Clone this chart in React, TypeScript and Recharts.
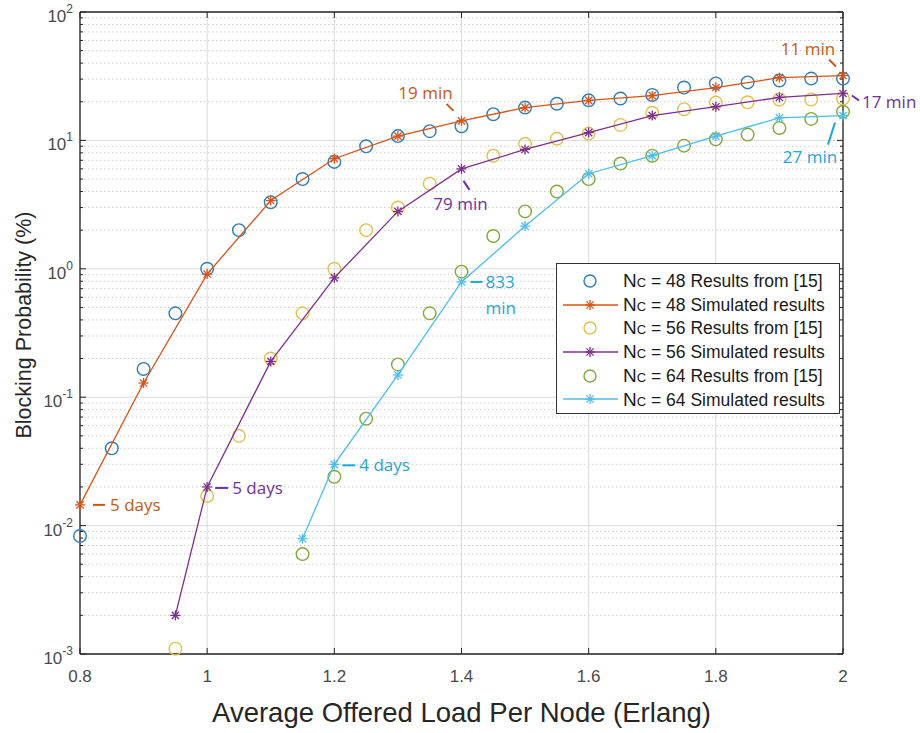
import React from "react";
import {
  ComposedChart,
  Scatter,
  XAxis,
  YAxis,
  CartesianGrid,
  Legend,
  ReferenceDot,
  ReferenceLine,
} from "recharts";

// ---- data ----
const load48Res = [0.8, 0.85, 0.9, 0.95, 1.0, 1.05, 1.1, 1.15, 1.2, 1.25, 1.3, 1.35, 1.4, 1.45, 1.5, 1.55, 1.6, 1.65, 1.7, 1.75, 1.8, 1.85, 1.9, 1.95, 2.0];
const block48Res = [0.0083, 0.04, 0.166, 0.45, 1.0, 2.0, 3.3, 5.0, 6.8, 9.0, 10.8, 11.8, 12.9, 16.0, 18.0, 19.3, 20.5, 21.2, 22.6, 25.8, 27.8, 28.3, 29.3, 30.3, 30.3];

const load48Sim = [0.8, 0.9, 1.0, 1.1, 1.2, 1.3, 1.4, 1.5, 1.6, 1.7, 1.8, 1.9, 2.0];
const block48Sim = [0.0145, 0.129, 0.91, 3.4, 7.2, 10.8, 14.2, 18.0, 20.5, 22.3, 25.8, 30.8, 32.0];

const load56Res = [0.95, 1.0, 1.05, 1.1, 1.15, 1.2, 1.25, 1.3, 1.35, 1.45, 1.5, 1.55, 1.6, 1.65, 1.7, 1.75, 1.8, 1.85, 1.9, 1.95, 2.0];
const block56Res = [0.0011, 0.017, 0.05, 0.2, 0.45, 1.0, 2.0, 3.0, 4.6, 7.6, 9.4, 10.3, 11.3, 13.2, 16.4, 17.5, 19.7, 19.8, 20.8, 20.8, 21.2];

const load56Sim = [0.95, 1.0, 1.1, 1.2, 1.3, 1.4, 1.5, 1.6, 1.7, 1.8, 1.9, 2.0];
const block56Sim = [0.002, 0.02, 0.19, 0.85, 2.8, 6.0, 8.5, 11.5, 15.6, 18.3, 21.6, 23.2];

const load64Res = [1.15, 1.2, 1.25, 1.3, 1.35, 1.4, 1.45, 1.5, 1.55, 1.6, 1.65, 1.7, 1.75, 1.8, 1.85, 1.9, 1.95, 2.0];
const block64Res = [0.006, 0.024, 0.068, 0.18, 0.45, 0.95, 1.8, 2.8, 4.0, 5.0, 6.6, 7.6, 9.1, 10.2, 11.1, 12.5, 14.7, 16.7];

const load64Sim = [1.15, 1.2, 1.3, 1.4, 1.5, 1.6, 1.7, 1.8, 1.9, 2.0];
const block64Sim = [0.0079, 0.03, 0.149, 0.79, 2.15, 5.5, 7.6, 10.8, 15.0, 15.6];

const xTicks = [0.8, 1, 1.2, 1.4, 1.6, 1.8, 2];
const decades = [0.001, 0.01, 0.1, 1, 10, 100];

const legendNc = ["48", "48", "56", "56", "64", "64"];
const legendText = [
  "Results from [15]",
  "Simulated results",
  "Results from [15]",
  "Simulated results",
  "Results from [15]",
  "Simulated results",
];

const annotationText = ["5 days", "5 days", "4 days", "833", "min", "79 min", "19 min", "11 min", "17 min", "27 min"];

// ---- layout / style ----
const W = 920;
const H = 733;
const PL = 80;
const PR = 843;
const PT = 12;
const PB = 654;
const AXIS = "#262626";
const TICKTXT = "#4a4a4a";
const SANS = "'Liberation Sans', Arial, sans-serif";
const ANNOT_FONT = "'Open Sans', sans-serif";

const BLUE = "#2F7DB5";
const ORANGE = "#D95319";
const YELLOW = "#E3C04E";
const PURPLE = "#7E2F8E";
const GREEN = "#82A83A";
const CYAN = "#4DBEEE";

const A_ORANGE = "#C55A11";
const A_PURPLE = "#7030A0";
const A_CYAN = "#1FA5D6";

const minorTicks = decades.slice(0, -1).flatMap((d) =>
  [2, 3, 4, 5, 6, 7, 8, 9].map((k) => Number((d * k).toPrecision(3)))
);
const allYTicks = [...decades, ...minorTicks].sort((a, b) => a - b);

const zip = (xs: number[], ys: number[]) => xs.map((x, i) => ({ x, y: ys[i] }));

const series = [
  { name: "48r", data: zip(load48Res, block48Res), color: BLUE, kind: "circle" },
  { name: "48s", data: zip(load48Sim, block48Sim), color: ORANGE, kind: "star" },
  { name: "56r", data: zip(load56Res, block56Res), color: YELLOW, kind: "circle" },
  { name: "56s", data: zip(load56Sim, block56Sim), color: PURPLE, kind: "star" },
  { name: "64r", data: zip(load64Res, block64Res), color: GREEN, kind: "circle" },
  { name: "64s", data: zip(load64Sim, block64Sim), color: CYAN, kind: "star" },
];

const circleShape = (color: string) => (p: any) =>
  <circle cx={p.cx} cy={p.cy} r={6.3} fill="none" stroke={color} strokeWidth={1.4} />;

const Star = ({ cx, cy, color, s = 5 }: any) => {
  const d = s * 0.72;
  return (
    <g stroke={color} strokeWidth={1.3}>
      <line x1={cx - s} y1={cy} x2={cx + s} y2={cy} />
      <line x1={cx} y1={cy - s} x2={cx} y2={cy + s} />
      <line x1={cx - d} y1={cy - d} x2={cx + d} y2={cy + d} />
      <line x1={cx - d} y1={cy + d} x2={cx + d} y2={cy - d} />
    </g>
  );
};
const starShape = (color: string) => (p: any) => <Star cx={p.cx} cy={p.cy} color={color} />;

// annotations: anchored on a data point, offsets in pixels
type Ann = {
  x: number;
  y: number;
  color: string;
  texts: { t: string; dx: number; dy: number; anchor: "start" | "middle" }[];
  seg: [number, number, number, number];
};
const annotations: Ann[] = [
  { x: load48Sim[0], y: block48Sim[0], color: A_ORANGE, seg: [13, 0, 25, 0], texts: [{ t: annotationText[0], dx: 30, dy: 0, anchor: "start" }] },
  { x: load56Sim[1], y: block56Sim[1], color: A_PURPLE, seg: [8, 1, 21, 1], texts: [{ t: annotationText[1], dx: 25, dy: 1, anchor: "start" }] },
  { x: load64Sim[1], y: block64Sim[1], color: A_CYAN, seg: [8, 1, 21, 1], texts: [{ t: annotationText[2], dx: 25, dy: 1, anchor: "start" }] },
  {
    x: load64Sim[3], y: block64Sim[3], color: A_CYAN, seg: [9, 0, 21, 0],
    texts: [
      { t: annotationText[3], dx: 24, dy: 0, anchor: "start" },
      { t: annotationText[4], dx: 24, dy: 26, anchor: "start" },
    ],
  },
  { x: load56Sim[5], y: block56Sim[5], color: A_PURPLE, seg: [2, 12, 8, 21], texts: [{ t: annotationText[5], dx: -1, dy: 35, anchor: "middle" }] },
  { x: load48Sim[6], y: block48Sim[6], color: A_ORANGE, seg: [-15, -17, -8, -10], texts: [{ t: annotationText[6], dx: -36, dy: -28, anchor: "middle" }] },
  { x: load48Sim[12], y: block48Sim[12], color: A_ORANGE, seg: [-14, -16, -7, -9], texts: [{ t: annotationText[7], dx: -35, dy: -27, anchor: "middle" }] },
  { x: load56Sim[11], y: block56Sim[11], color: A_PURPLE, seg: [9, 2, 16, 7], texts: [{ t: annotationText[8], dx: 19, dy: 9, anchor: "start" }] },
  { x: load64Sim[9], y: block64Sim[9], color: A_CYAN, seg: [-8, 7, -15, 29], texts: [{ t: annotationText[9], dx: -33, dy: 41, anchor: "middle" }] },
];

const annShape = (a: Ann) => (p: any) => {
  const { cx, cy } = p;
  return (
    <g>
      <line x1={cx + a.seg[0]} y1={cy + a.seg[1]} x2={cx + a.seg[2]} y2={cy + a.seg[3]} stroke={a.color} strokeWidth={2} />
      {a.texts.map((t, i) => (
        <text key={i} x={cx + t.dx} y={cy + t.dy + 6} textAnchor={t.anchor} fontFamily={ANNOT_FONT} fontSize={17} fill={a.color}>
          {t.t}
        </text>
      ))}
    </g>
  );
};

const XTick = (props: any) => {
  const { x, payload } = props;
  return (
    <g>
      <line x1={x} x2={x} y1={PB} y2={PB - 6} stroke={AXIS} />
      <line x1={x} x2={x} y1={PT} y2={PT + 6} stroke={AXIS} />
      <text x={x} y={682} textAnchor="middle" fontFamily={SANS} fontSize={17} fill={TICKTXT}>
        {String(payload.value)}
      </text>
    </g>
  );
};

const YTick = (props: any) => {
  const { y, payload } = props;
  const v = payload.value;
  const lg = Math.log10(v);
  const exp = Math.round(lg);
  const major = Math.abs(lg - exp) < 1e-6;
  const len = major ? 6 : 3;
  return (
    <g>
      <line x1={PL} x2={PL + len} y1={y} y2={y} stroke={AXIS} />
      <line x1={PR} x2={PR - len} y1={y} y2={y} stroke={AXIS} />
      {major && (
        <text x={73} y={y + 10} textAnchor="end" fontFamily={SANS} fontSize={17} fill={TICKTXT}>
          10
          <tspan dy={-9} fontSize={12}>
            {String(exp)}
          </tspan>
        </text>
      )}
    </g>
  );
};

const YLabel = () => (
  <text
    x={24}
    y={325}
    transform="rotate(-90 24 325)"
    textAnchor="middle"
    dominantBaseline="central"
    fontFamily={SANS}
    fontSize={21.5}
    fill="#262626"
  >
    Blocking Probability (%)
  </text>
);

const LegendBox = () => (
  <div
    style={{
      width: 284,
      height: 151,
      boxSizing: "border-box",
      border: "1.5px solid #333",
      background: "#fff",
      paddingTop: 5,
      fontFamily: SANS,
      color: "#1a1a1a",
    }}
  >
    {series.map((s, i) => (
      <div key={s.name} style={{ display: "flex", alignItems: "center", height: 23.7 }}>
        <svg width={62} height={22} style={{ flex: "none" }}>
          {s.kind === "star" && <line x1={6} x2={61} y1={11} y2={11} stroke={s.color} strokeWidth={1.3} />}
          {s.kind === "star" ? (
            <Star cx={33} cy={11} color={s.color} />
          ) : (
            <circle cx={33} cy={11} r={6} fill="none" stroke={s.color} strokeWidth={1.4} />
          )}
        </svg>
        <div style={{ marginLeft: 4, whiteSpace: "nowrap", lineHeight: 1 }}>
          <span style={{ fontSize: 19 }}>N</span>
          <span style={{ fontSize: 13 }}>C</span>
          <span style={{ fontSize: 17.5 }}>
            {" "}= {legendNc[i]} {legendText[i]}
          </span>
        </div>
      </div>
    ))}
  </div>
);

export default function App() {
  return (
    <div style={{ position: "absolute", left: 0, top: 0, width: W, height: H, background: "#fff" }}>
      <ComposedChart width={W} height={H} margin={{ top: PT, right: W - PR, left: 8, bottom: 9 }}>
        <CartesianGrid horizontalValues={minorTicks} vertical={false} stroke="#cdcdcd" strokeDasharray="1.5 2.5" />
        <CartesianGrid horizontalValues={decades} stroke="#dadada" />
        <XAxis
          type="number"
          dataKey="x"
          domain={[0.8, 2]}
          ticks={xTicks}
          interval={0}
          height={70}
          tickLine={false}
          axisLine={{ stroke: AXIS, strokeWidth: 1.3 }}
          tick={<XTick />}
          label={{
            value: "Average Offered Load Per Node (Erlang)",
            position: "insideBottom",
            offset: 2,
            style: { fontFamily: SANS, fontSize: 27.5, fill: "#262626" },
          }}
        />
        <YAxis
          type="number"
          dataKey="y"
          scale="log"
          domain={[0.001, 100]}
          ticks={allYTicks}
          interval={0}
          width={72}
          tickLine={false}
          axisLine={{ stroke: AXIS, strokeWidth: 1.3 }}
          tick={<YTick />}
          label={<YLabel />}
        />
        <ReferenceLine y={100} stroke={AXIS} strokeWidth={1.3} />
        <ReferenceLine x={2} stroke={AXIS} strokeWidth={1.3} />
        {series.map((s) =>
          s.kind === "circle" ? (
            <Scatter key={s.name} name={s.name} data={s.data} shape={circleShape(s.color)} isAnimationActive={false} />
          ) : (
            <Scatter
              key={s.name}
              name={s.name}
              data={s.data}
              line={{ stroke: s.color, strokeWidth: 1.3 }}
              lineJointType="linear"
              shape={starShape(s.color)}
              isAnimationActive={false}
            />
          )
        )}
        {annotations.map((a, i) => (
          <ReferenceDot key={i} x={a.x} y={a.y} r={0} shape={annShape(a)} ifOverflow="visible" />
        ))}
        <Legend
          layout="horizontal"
          verticalAlign="middle"
          align="center"
          content={<LegendBox />}
          wrapperStyle={{ left: 556, top: 263, width: 284, height: 151 }}
        />
      </ComposedChart>
    </div>
  );
}
